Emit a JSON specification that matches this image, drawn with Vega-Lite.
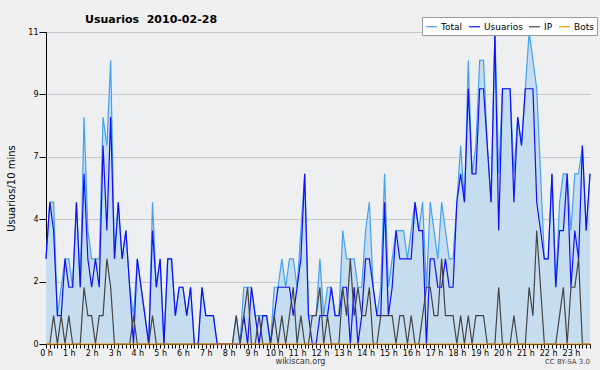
{
 "$schema": "https://vega.github.io/schema/vega-lite/v6.json",
 "width": 544, "height": 312,
 "autosize": {"type": "none"},
 "padding": {"left": 46, "top": 32, "right": 10, "bottom": 26},
 "background": "#f0f0f0",
 "config": {"view": {"fill": "#eeeff1", "stroke": null}, "font": "DejaVu Sans", "axisX": {"labelOverlap": false}},
 "title": {"text": "Usuarios \u00a02010-02-28", "anchor": "start", "frame": "group", "dx": 39, "dy": 14, "fontSize": 11, "fontWeight": "bold", "color": "#000", "offset": 6},
 "datasets": {"d": [
{"m":0,"Total":3,"Usuarios":3,"IP":0,"Bots":0},
{"m":10,"Total":5,"Usuarios":5,"IP":0,"Bots":0},
{"m":20,"Total":5,"Usuarios":4,"IP":1,"Bots":0},
{"m":30,"Total":1,"Usuarios":1,"IP":0,"Bots":0},
{"m":40,"Total":2,"Usuarios":1,"IP":1,"Bots":0},
{"m":50,"Total":3,"Usuarios":3,"IP":0,"Bots":0},
{"m":60,"Total":3,"Usuarios":2,"IP":1,"Bots":0},
{"m":70,"Total":2,"Usuarios":2,"IP":0,"Bots":0},
{"m":80,"Total":5,"Usuarios":5,"IP":0,"Bots":0},
{"m":90,"Total":2,"Usuarios":2,"IP":0,"Bots":0},
{"m":100,"Total":8,"Usuarios":6,"IP":2,"Bots":0},
{"m":110,"Total":4,"Usuarios":3,"IP":1,"Bots":0},
{"m":120,"Total":3,"Usuarios":2,"IP":1,"Bots":0},
{"m":130,"Total":3,"Usuarios":3,"IP":0,"Bots":0},
{"m":140,"Total":3,"Usuarios":2,"IP":1,"Bots":0},
{"m":150,"Total":8,"Usuarios":7,"IP":1,"Bots":0},
{"m":160,"Total":7,"Usuarios":4,"IP":3,"Bots":0},
{"m":170,"Total":10,"Usuarios":8,"IP":2,"Bots":0},
{"m":180,"Total":3,"Usuarios":3,"IP":0,"Bots":0},
{"m":190,"Total":5,"Usuarios":5,"IP":0,"Bots":0},
{"m":200,"Total":3,"Usuarios":3,"IP":0,"Bots":0},
{"m":210,"Total":4,"Usuarios":4,"IP":0,"Bots":0},
{"m":220,"Total":2,"Usuarios":2,"IP":0,"Bots":0},
{"m":230,"Total":1,"Usuarios":0,"IP":1,"Bots":0},
{"m":240,"Total":3,"Usuarios":3,"IP":0,"Bots":0},
{"m":250,"Total":2,"Usuarios":2,"IP":0,"Bots":0},
{"m":260,"Total":1,"Usuarios":1,"IP":0,"Bots":0},
{"m":270,"Total":0,"Usuarios":0,"IP":0,"Bots":0},
{"m":280,"Total":5,"Usuarios":4,"IP":1,"Bots":0},
{"m":290,"Total":2,"Usuarios":2,"IP":0,"Bots":0},
{"m":300,"Total":3,"Usuarios":3,"IP":0,"Bots":0},
{"m":310,"Total":0,"Usuarios":0,"IP":0,"Bots":0},
{"m":320,"Total":3,"Usuarios":3,"IP":0,"Bots":0},
{"m":330,"Total":3,"Usuarios":3,"IP":0,"Bots":0},
{"m":340,"Total":1,"Usuarios":1,"IP":0,"Bots":0},
{"m":350,"Total":2,"Usuarios":2,"IP":0,"Bots":0},
{"m":360,"Total":2,"Usuarios":2,"IP":0,"Bots":0},
{"m":370,"Total":1,"Usuarios":1,"IP":0,"Bots":0},
{"m":380,"Total":2,"Usuarios":2,"IP":0,"Bots":0},
{"m":390,"Total":0,"Usuarios":0,"IP":0,"Bots":0},
{"m":400,"Total":0,"Usuarios":0,"IP":0,"Bots":0},
{"m":410,"Total":2,"Usuarios":2,"IP":0,"Bots":0},
{"m":420,"Total":1,"Usuarios":1,"IP":0,"Bots":0},
{"m":430,"Total":1,"Usuarios":1,"IP":0,"Bots":0},
{"m":440,"Total":1,"Usuarios":1,"IP":0,"Bots":0},
{"m":450,"Total":0,"Usuarios":0,"IP":0,"Bots":0},
{"m":460,"Total":0,"Usuarios":0,"IP":0,"Bots":0},
{"m":470,"Total":0,"Usuarios":0,"IP":0,"Bots":0},
{"m":480,"Total":0,"Usuarios":0,"IP":0,"Bots":0},
{"m":490,"Total":0,"Usuarios":0,"IP":0,"Bots":0},
{"m":500,"Total":1,"Usuarios":0,"IP":1,"Bots":0},
{"m":510,"Total":0,"Usuarios":0,"IP":0,"Bots":0},
{"m":520,"Total":2,"Usuarios":1,"IP":1,"Bots":0},
{"m":530,"Total":2,"Usuarios":0,"IP":2,"Bots":0},
{"m":540,"Total":2,"Usuarios":2,"IP":0,"Bots":0},
{"m":550,"Total":1,"Usuarios":1,"IP":0,"Bots":0},
{"m":560,"Total":1,"Usuarios":0,"IP":1,"Bots":0},
{"m":570,"Total":1,"Usuarios":1,"IP":0,"Bots":0},
{"m":580,"Total":1,"Usuarios":1,"IP":0,"Bots":0},
{"m":590,"Total":0,"Usuarios":0,"IP":0,"Bots":0},
{"m":600,"Total":2,"Usuarios":1,"IP":1,"Bots":0},
{"m":610,"Total":2,"Usuarios":2,"IP":0,"Bots":0},
{"m":620,"Total":3,"Usuarios":2,"IP":1,"Bots":0},
{"m":630,"Total":2,"Usuarios":2,"IP":0,"Bots":0},
{"m":640,"Total":3,"Usuarios":2,"IP":1,"Bots":0},
{"m":650,"Total":3,"Usuarios":1,"IP":2,"Bots":0},
{"m":660,"Total":2,"Usuarios":2,"IP":0,"Bots":0},
{"m":670,"Total":4,"Usuarios":3,"IP":1,"Bots":0},
{"m":680,"Total":6,"Usuarios":6,"IP":0,"Bots":0},
{"m":690,"Total":1,"Usuarios":1,"IP":0,"Bots":0},
{"m":700,"Total":1,"Usuarios":0,"IP":1,"Bots":0},
{"m":710,"Total":1,"Usuarios":0,"IP":1,"Bots":0},
{"m":720,"Total":3,"Usuarios":1,"IP":2,"Bots":0},
{"m":730,"Total":1,"Usuarios":1,"IP":0,"Bots":0},
{"m":740,"Total":2,"Usuarios":1,"IP":1,"Bots":0},
{"m":750,"Total":2,"Usuarios":2,"IP":0,"Bots":0},
{"m":760,"Total":1,"Usuarios":1,"IP":0,"Bots":0},
{"m":770,"Total":1,"Usuarios":1,"IP":0,"Bots":0},
{"m":780,"Total":4,"Usuarios":2,"IP":2,"Bots":0},
{"m":790,"Total":3,"Usuarios":2,"IP":1,"Bots":0},
{"m":800,"Total":3,"Usuarios":0,"IP":3,"Bots":0},
{"m":810,"Total":3,"Usuarios":2,"IP":1,"Bots":0},
{"m":820,"Total":2,"Usuarios":0,"IP":2,"Bots":0},
{"m":830,"Total":2,"Usuarios":1,"IP":1,"Bots":0},
{"m":840,"Total":4,"Usuarios":3,"IP":1,"Bots":0},
{"m":850,"Total":5,"Usuarios":3,"IP":2,"Bots":0},
{"m":860,"Total":2,"Usuarios":2,"IP":0,"Bots":0},
{"m":870,"Total":1,"Usuarios":1,"IP":0,"Bots":0},
{"m":880,"Total":2,"Usuarios":1,"IP":1,"Bots":0},
{"m":890,"Total":6,"Usuarios":5,"IP":1,"Bots":0},
{"m":900,"Total":2,"Usuarios":1,"IP":1,"Bots":0},
{"m":910,"Total":3,"Usuarios":2,"IP":1,"Bots":0},
{"m":920,"Total":4,"Usuarios":4,"IP":0,"Bots":0},
{"m":930,"Total":4,"Usuarios":3,"IP":1,"Bots":0},
{"m":940,"Total":4,"Usuarios":3,"IP":1,"Bots":0},
{"m":950,"Total":3,"Usuarios":3,"IP":0,"Bots":0},
{"m":960,"Total":4,"Usuarios":3,"IP":1,"Bots":0},
{"m":970,"Total":5,"Usuarios":5,"IP":0,"Bots":0},
{"m":980,"Total":4,"Usuarios":4,"IP":0,"Bots":0},
{"m":990,"Total":5,"Usuarios":4,"IP":1,"Bots":0},
{"m":1000,"Total":2,"Usuarios":0,"IP":2,"Bots":0},
{"m":1010,"Total":5,"Usuarios":3,"IP":2,"Bots":0},
{"m":1020,"Total":4,"Usuarios":3,"IP":1,"Bots":0},
{"m":1030,"Total":3,"Usuarios":2,"IP":1,"Bots":0},
{"m":1040,"Total":5,"Usuarios":2,"IP":3,"Bots":0},
{"m":1050,"Total":4,"Usuarios":3,"IP":1,"Bots":0},
{"m":1060,"Total":3,"Usuarios":2,"IP":1,"Bots":0},
{"m":1070,"Total":3,"Usuarios":2,"IP":1,"Bots":0},
{"m":1080,"Total":5,"Usuarios":5,"IP":0,"Bots":0},
{"m":1090,"Total":7,"Usuarios":6,"IP":1,"Bots":0},
{"m":1100,"Total":5,"Usuarios":5,"IP":0,"Bots":0},
{"m":1110,"Total":10,"Usuarios":9,"IP":1,"Bots":0},
{"m":1120,"Total":6,"Usuarios":6,"IP":0,"Bots":0},
{"m":1130,"Total":7,"Usuarios":6,"IP":1,"Bots":0},
{"m":1140,"Total":10,"Usuarios":9,"IP":1,"Bots":0},
{"m":1150,"Total":10,"Usuarios":9,"IP":1,"Bots":0},
{"m":1160,"Total":7,"Usuarios":7,"IP":0,"Bots":0},
{"m":1170,"Total":5,"Usuarios":5,"IP":0,"Bots":0},
{"m":1180,"Total":11,"Usuarios":11,"IP":0,"Bots":0},
{"m":1190,"Total":6,"Usuarios":4,"IP":2,"Bots":0},
{"m":1200,"Total":9,"Usuarios":9,"IP":0,"Bots":0},
{"m":1210,"Total":9,"Usuarios":9,"IP":0,"Bots":0},
{"m":1220,"Total":9,"Usuarios":9,"IP":0,"Bots":0},
{"m":1230,"Total":6,"Usuarios":5,"IP":1,"Bots":0},
{"m":1240,"Total":8,"Usuarios":8,"IP":0,"Bots":0},
{"m":1250,"Total":7,"Usuarios":7,"IP":0,"Bots":0},
{"m":1260,"Total":9,"Usuarios":9,"IP":0,"Bots":0},
{"m":1270,"Total":11,"Usuarios":9,"IP":2,"Bots":0},
{"m":1280,"Total":10,"Usuarios":9,"IP":1,"Bots":0},
{"m":1290,"Total":9,"Usuarios":5,"IP":4,"Bots":0},
{"m":1300,"Total":6,"Usuarios":4,"IP":2,"Bots":0},
{"m":1310,"Total":3,"Usuarios":3,"IP":0,"Bots":0},
{"m":1320,"Total":3,"Usuarios":3,"IP":0,"Bots":0},
{"m":1330,"Total":6,"Usuarios":6,"IP":0,"Bots":0},
{"m":1340,"Total":2,"Usuarios":2,"IP":0,"Bots":0},
{"m":1350,"Total":5,"Usuarios":4,"IP":1,"Bots":0},
{"m":1360,"Total":6,"Usuarios":4,"IP":2,"Bots":0},
{"m":1370,"Total":6,"Usuarios":6,"IP":0,"Bots":0},
{"m":1380,"Total":4,"Usuarios":2,"IP":2,"Bots":0},
{"m":1390,"Total":6,"Usuarios":4,"IP":2,"Bots":0},
{"m":1400,"Total":6,"Usuarios":3,"IP":3,"Bots":0},
{"m":1410,"Total":7,"Usuarios":7,"IP":0,"Bots":0},
{"m":1420,"Total":4,"Usuarios":4,"IP":0,"Bots":0},
{"m":1430,"Total":6,"Usuarios":6,"IP":0,"Bots":0}
 ], "note": [{"txt": "CC BY-SA 3.0", "m": 1430, "v": -0.64}]},
 "encoding": {
  "x": {"field": "m", "type": "quantitative", "scale": {"domain": [0, 1430], "nice": false, "zero": false},
   "axis": {"values": [0,10,20,30,40,50,60,70,80,90,100,110,120,130,140,150,160,170,180,190,200,210,220,230,240,250,260,270,280,290,300,310,320,330,340,350,360,370,380,390,400,410,420,430,440,450,460,470,480,490,500,510,520,530,540,550,560,570,580,590,600,610,620,630,640,650,660,670,680,690,700,710,720,730,740,750,760,770,780,790,800,810,820,830,840,850,860,870,880,890,900,910,920,930,940,950,960,970,980,990,1000,1010,1020,1030,1040,1050,1060,1070,1080,1090,1100,1110,1120,1130,1140,1150,1160,1170,1180,1190,1200,1210,1220,1230,1240,1250,1260,1270,1280,1290,1300,1310,1320,1330,1340,1350,1360,1370,1380,1390,1400,1410,1420,1430],
    "labelExpr": "datum.value % 60 == 0 ? (datum.value / 60) + ' h' : ''",
    "labelOverlap": false, "labelBound": false, "labelFlush": false, "labelFontSize": 8, "labelColor": "#000", "labelPadding": 1,
    "tickSize": 4, "tickColor": "#000", "domainColor": "#000", "grid": false,
    "title": "wikiscan.org", "titleFontSize": 8, "titleFontWeight": "normal", "titleColor": "#333", "titleX": 254, "titleY": 13}}
 },
 "layer": [
  {
   "data": {"name": "d"},
   "mark": {"type": "area", "color": "#c6ddf0"},
   "encoding": {
    "y": {"field": "Total", "type": "quantitative", "scale": {"domain": [0, 11], "nice": false},
     "axis": {"values": [0,0.55,1.1,1.65,2.2,2.75,3.3,3.85,4.4,4.95,5.5,6.05,6.6,7.15,7.7,8.25,8.8,9.35,9.9,10.45,11],
      "labelExpr": "abs(datum.value / 2.2 - round(datum.value / 2.2)) < 0.01 ? toString(round(datum.value)) : ''",
      "labelOverlap": false, "labelFontSize": 8, "labelColor": "#000", "labelPadding": 1,
      "tickSize": {"condition": {"test": "abs(datum.value / 2.2 - round(datum.value / 2.2)) < 0.01", "value": 7}, "value": 3},
      "tickColor": "#000", "domainColor": "#000",
      "grid": true, "gridColor": "#c8c8c8",
      "gridOpacity": {"condition": {"test": "abs(datum.value / 2.2 - round(datum.value / 2.2)) < 0.01", "value": 1}, "value": 0},
      "title": "Usuarios/10 mins", "titleFontSize": 10, "titleFontWeight": "normal", "titleColor": "#000", "titlePadding": 11}}
   }
  },
  {
   "data": {"name": "d"},
   "transform": [{"fold": ["Total", "Usuarios", "IP", "Bots"], "as": ["serie", "v"]}],
   "mark": {"type": "line", "strokeWidth": 1.2},
   "encoding": {
    "y": {"field": "v", "type": "quantitative"},
    "color": {"field": "serie", "type": "nominal",
     "scale": {"domain": ["Total", "Usuarios", "IP", "Bots"], "range": ["#45a0f2", "#1010f8", "#454545", "#ff9900"]},
     "legend": {"orient": "none", "legendX": 376, "legendY": -15, "direction": "horizontal", "title": null,
      "symbolType": "stroke", "symbolStrokeWidth": 1.2, "symbolSize": 121, "labelFontSize": 9, "labelColor": "#000",
      "fillColor": "#ffffff", "strokeColor": "#999999", "padding": 3, "columnPadding": 3, "labelOffset": 3}}
   }
  },
  {
   "data": {"name": "note"},
   "mark": {"type": "text", "align": "right", "baseline": "middle", "fontSize": 7, "color": "#444"},
   "encoding": {"text": {"field": "txt"}, "y": {"field": "v", "type": "quantitative"}}
  }
 ]
}
